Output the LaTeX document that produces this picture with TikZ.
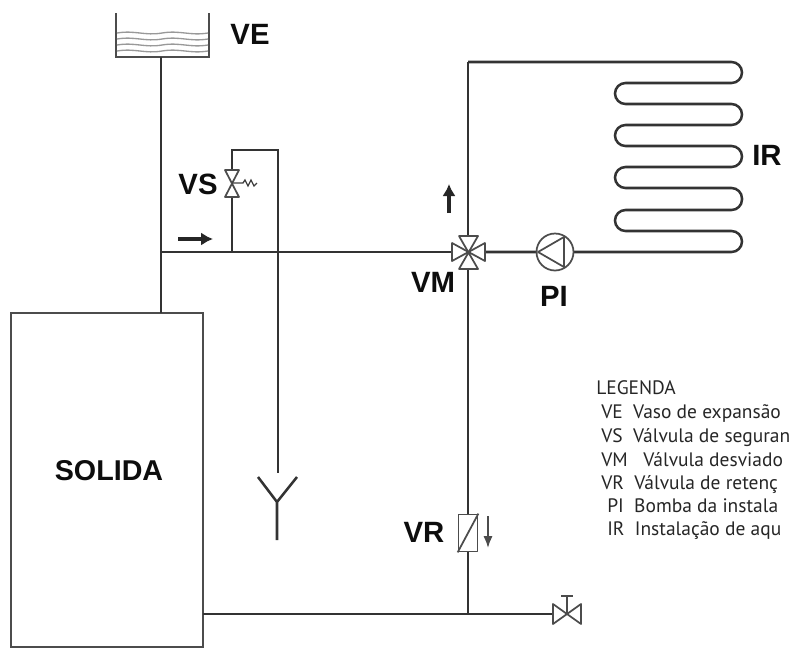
\documentclass[tikz,border=0pt]{standalone}
\usepackage{fontspec}
\setmainfont{PT Sans}
\newfontfamily\labelfont[Scale=1]{Liberation Sans}
\usetikzlibrary{arrows.meta}
\tikzset{
  pipe/.style={line width=1.9pt,black!80},
  thin pipe/.style={line width=1.4pt,black!70},
  symbol/.style={line width=1.3pt,black!70,fill=white,line join=round},
  flow/.style={line width=2.3pt,black!85,-{Latex[length=9pt,width=10pt]}},
  tag/.style={inner sep=0pt,font=\labelfont\fontsize{22}{22}\selectfont\bfseries,text=black!95},
  legend/.style={inner sep=0pt,anchor=base west,font=\fontsize{14.6}{14.6}\selectfont,text=black!85}
}
\begin{document}
\begin{tikzpicture}[x=0.75pt,y=-0.75pt]
  \useasboundingbox (0,0) rectangle (790,654);
  % points of the circuit
  \coordinate (tank) at (161,57);
  \coordinate (tee) at (161,252);
  \coordinate (boilertop) at (161,313);
  \coordinate (vsfoot) at (232,252);
  \coordinate (vstop) at (232,150);
  \coordinate (drainturn) at (278,150);
  \coordinate (drainend) at (278,473);
  \coordinate (vmtop) at (468,62);
  \coordinate (vmc) at (468,252);
  \coordinate (vrc) at (468,533);
  \coordinate (ret) at (468,614);
  \coordinate (boilerret) at (203,614);
  \coordinate (valvec) at (567,614);
  \node[draw,thin pipe,minimum width=192*0.75pt,minimum height=334*0.75pt,inner sep=0pt] (boiler) at (107,480) {};
  \node[inner sep=0pt,font=\labelfont\fontsize{21.5}{21.5}\selectfont\bfseries,text=black!95] (solida) at (109,471) {SOLIDA};
  % tank
  \draw[thin pipe] (116,13) -- (116,57) -- (209,57) -- (209,13);
  \foreach \y in {33,39,45,51}
    \draw[black!40,line width=1pt] (117,\y) .. controls (135,\y-3) and (145,\y+3) .. (162,\y) .. controls (180,\y-3) and (190,\y+3) .. (208,\y);
  \node[tag] (ve) at (250,34) {VE};
  % pipes
  \draw[pipe] (tank) -- (tee) -- (boilertop);
  \draw[pipe] (tee) -- (vmc);
  \draw[pipe] (vsfoot) -- (vstop) -- (drainturn) -- (drainend);
  \draw[pipe] (vmtop) -- (ret);
  \draw[pipe] (boilerret) -- (ret) -- (valvec);
  % coil
  \draw[pipe,rounded corners=10.5*0.75pt] (vmtop) -- (742,62) -- (742,83) -- (615,83) -- (615,104) -- (742,104) -- (742,125) -- (615,125) -- (615,146) -- (742,146) -- (742,167) -- (615,167) -- (615,188) -- (742,188) -- (742,210) -- (615,210) -- (615,231) -- (742,231) -- (742,252) -- (vmc);
  \node[tag] (ir) at (767,155) {IR};
  % safety valve
  \draw[symbol] (225,170) -- (239,170) -- (225,197) -- (239,197) -- cycle;
  \draw[black!75,line width=1pt] (232,183) -- (243,183) -- (245,180) -- (248,186) -- (251,180) -- (254,186) -- (257,183);
  \node[tag] (vs) at (198,184) {VS};
  \draw[flow] (178,239) -- (213,239);
  % diverter valve
  \draw[symbol] (452,243) -- (452,261) -- (485,243) -- (485,261) -- cycle;
  \draw[symbol] (459,236) -- (478,236) -- (459,269) -- (478,269) -- cycle;
  \draw[flow] (449,213) -- (449,184);
  \node[tag] (vm) at (433,282) {VM};
  % pump
  \node[draw,symbol,circle,minimum size=37*0.75pt,inner sep=0pt] (pump) at (555,252) {};
  \draw[symbol] (538,252) -- (564,237) -- (564,267) -- cycle;
  \node[tag] (pi) at (554,296) {PI};
  % check valve
  \node[draw,symbol,minimum width=19*0.75pt,minimum height=37*0.75pt,inner sep=0pt] (check) at (vrc) {};
  \draw[symbol] (check.south west) -- (check.north east);
  \draw[line width=1.4pt,black!70,-{Latex[length=9pt,width=7pt]}] (488,516) -- (488,548);
  \node[tag] (vr) at (424,532) {VR};
  % drain valve
  \draw[symbol] (553,604) -- (553,624) -- (581,604) -- (581,624) -- cycle;
  \draw[symbol] (valvec) -- (567,596) (561,596) -- (573,596);
  % funnel
  \draw[pipe] (258,477) -- (277,502) -- (297,477) (277,502) -- (277,540);
  % legend
  \node[legend] (leg) at (596,394.5) {LEGENDA};
  \node[legend] (leg1) at (601,418.5) {VE\ \ Vaso de expansão};
  \node[legend] (leg2) at (601,442.5) {VS\ \ Válvula de seguran};
  \node[legend] (leg3) at (601,466) {VM\ \ \ Válvula desviado};
  \node[legend] (leg4) at (601,489.5) {VR\ \ Válvula de retenç};
  \node[legend] (leg5) at (607,512.5) {PI\ \ Bomba da instala};
  \node[legend] (leg6) at (607,535.5) {IR\ \ Instalação de aqu};
\end{tikzpicture}
\end{document}
